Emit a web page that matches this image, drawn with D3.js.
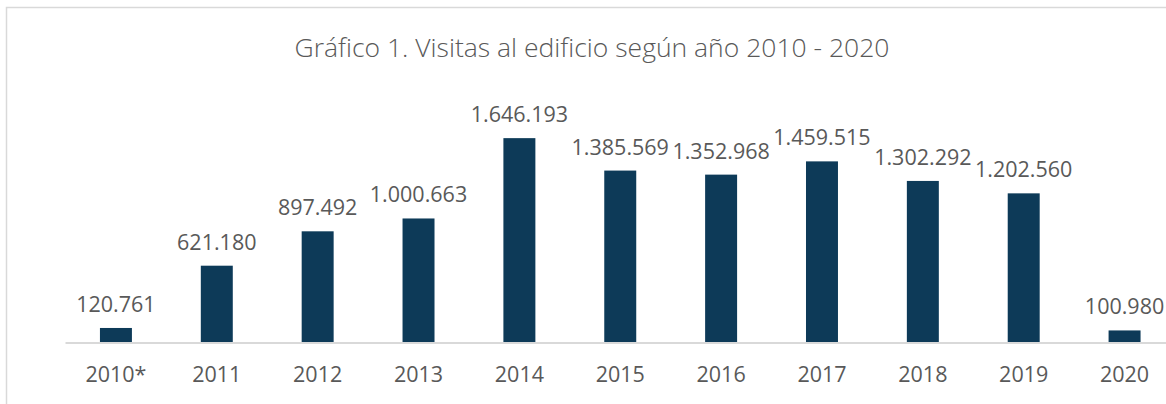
<!DOCTYPE html>
<html>
<head>
<meta charset="utf-8">
<script src="https://cdn.jsdelivr.net/npm/d3@7"></script>
<style>
  body { margin: 0; background: #fff; }
  svg { display: block; font-family: "Open Sans", Lato, sans-serif; }
</style>
</head>
<body>
<svg></svg>
<script>
// data

const years = ["2010*", "2011", "2012", "2013", "2014", "2015", "2016", "2017", "2018", "2019", "2020"];
const visits = [120761, 621180, 897492, 1000663, 1646193, 1385569, 1352968, 1459515, 1302292, 1202560, 100980];
const title = "Gráfico 1. Visitas al edificio según año 2010 - 2020";

// dimensions

const W = 1166, H = 404;
const margin = { top: 119, right: -9, bottom: 61, left: 65.5 },
      width = W - margin.left - margin.right,
      height = H - margin.top - margin.bottom;

const svg = d3.select("svg")
              .attr("width", W)
              .attr("height", H);

// chart frame (cut off on the right and bottom)
svg.append("rect")
   .attr("x", 6.5).attr("y", 7.5)
   .attr("width", 1170).attr("height", 420)
   .attr("fill", "none")
   .attr("stroke", "#d9d9d9")
   .attr("stroke-width", 1.5);

svg.append("text")
   .attr("x", 592)
   .attr("y", 57)
   .attr("text-anchor", "middle")
   .attr("fill", "#595959")
   .attr("font-size", 26.5)
   .attr("font-weight", 300)
   .text(title);

const g = svg.append("g")
             .attr("transform", `translate(${margin.left},${margin.top})`);

// scales

const x = d3.scaleBand()
            .domain(years)
            .range([0, width])
            .paddingInner(0.683)
            .paddingOuter(0.3415);

const y = d3.scaleLinear()
            .domain([0, 1800000])
            .range([height, 0]);

// bars

g.selectAll(".bar")
 .data(years)
 .enter()
 .append("rect")
 .attr("class", "bar")
 .attr("x", d => x(d))
 .attr("y", (d, i) => y(visits[i]))
 .attr("width", x.bandwidth())
 .attr("height", (d, i) => height - y(visits[i]))
 .attr("fill", "#0d3a58");

// axis

const xAxis = g.append("g")
   .attr("transform", `translate(0,${height})`)
   .call(d3.axisBottom(x).tickSize(0).tickPadding(24));

xAxis.select(".domain").attr("stroke", "#d9d9d9").attr("stroke-width", 2)
     .attr("d", `M0,0H${width}`);
xAxis.selectAll("text")
     .attr("fill", "#595959")
     .attr("font-size", 21.5)
     .attr("font-family", "\"Open Sans\", Lato, sans-serif");

// value labels

const fmt = d3.formatLocale({ decimal: ",", thousands: ".", grouping: [3], currency: ["", ""] }).format(",d");

g.selectAll(".label")
 .data(years)
 .enter()
 .append("text")
 .attr("class", "label")
 .attr("x", d => x(d) + x.bandwidth() / 2)
 .attr("y", (d, i) => y(visits[i]) - 16)
 .attr("text-anchor", "middle")
 .attr("fill", "#595959")
 .attr("font-size", 21.5)
 .text((d, i) => fmt(visits[i]));
</script>
</body>
</html>
